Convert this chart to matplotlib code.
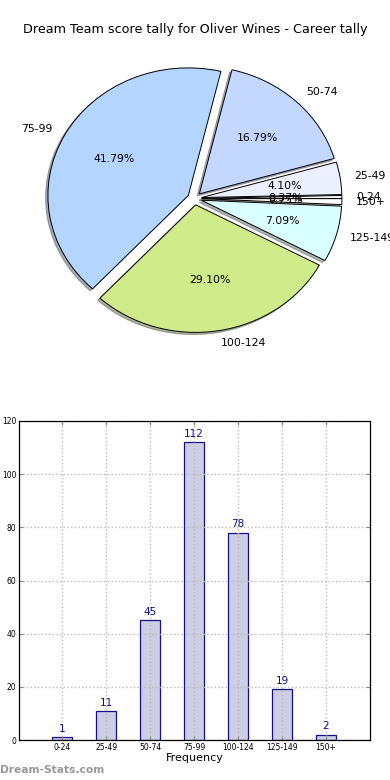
"""Dream Team score tally: pie + frequency bar chart."""

import matplotlib

matplotlib.use("Agg")

import matplotlib.pyplot as plt
import numpy as np

TITLE = "Dream Team score tally for Oliver Wines - Career tally"
CATEGORIES = ["0-24", "25-49", "50-74", "75-99", "100-124", "125-149", "150+"]
COUNTS = [1, 11, 45, 112, 78, 19, 2]
PIE_COLORS = ["#ffffff", "#ebefff", "#c4d8ff", "#b3d5ff", "#d0eb8a", "#d9ffff", "#ffffff"]
Y_TICKS = [0, 20, 40, 60, 80, 100, 120]

W, H = 390, 780


def main() -> None:
    fig = plt.figure(figsize=(W / 100, H / 100), dpi=100)

    fig.text(0.5, 1 - 30 / H, TITLE, ha="center", va="center", fontsize=9.2)

    # pie (non-equal aspect, like the old renderer)
    ax = fig.add_axes([19 / W, 1 - 358 / H, 351 / W, 319 / H])
    explode = [0.05] * len(COUNTS)
    ax.pie(
        COUNTS,
        labels=CATEGORIES,
        colors=PIE_COLORS,
        explode=explode,
        autopct="%1.2f%%",
        shadow={"ox": -0.012, "oy": -0.012, "shade": 0.6},
        startangle=0,
        wedgeprops={"edgecolor": "black", "linewidth": 0.7},
        textprops={"fontsize": 7.8},
    )
    ax.set_aspect("auto")
    ax.set_xlim(-1.25, 1.25)
    ax.set_ylim(-1.25, 1.25)
    ax.axis("off")

    # bar chart
    ax = fig.add_axes([19 / W, 1 - 740 / H, 351 / W, 319 / H])
    x = np.arange(len(COUNTS))
    bars = ax.bar(x, COUNTS, width=0.45, color="#cdcde4", edgecolor="#101088", linewidth=0.9, zorder=2)
    for rect, val in zip(bars, COUNTS):
        ax.text(rect.get_x() + rect.get_width() / 2, val + 1.2, str(val),
                ha="center", va="bottom", fontsize=7.5, color="#101088")
    ax.set_xticks(x)
    ax.set_xticklabels(CATEGORIES, fontsize=5.5)
    ax.set_yticks(Y_TICKS)
    ax.set_yticklabels([str(v) for v in Y_TICKS], fontsize=5.5)
    ax.set_xlim(-0.98, 7.0)
    ax.set_ylim(0, 120)
    ax.set_xlabel("Frequency", fontsize=8, labelpad=1)
    ax.tick_params(direction="in", top=True, right=True, length=3, pad=2, color="#888888")
    ax.grid(True, linestyle=":", color="#bbbbbb", linewidth=1.0, zorder=3)
    ax.set_axisbelow(False)
    for spine in ax.spines.values():
        spine.set_linewidth(0.9)
        spine.set_zorder(5)

    fig.text(0.0, 1 - 770 / H, "Dream-Stats.com", ha="left", va="center",
             fontsize=7.7, color="#999999", fontweight="bold")

    fig.savefig("out.png", dpi=100)
    plt.close(fig)


if __name__ == "__main__":
    main()
